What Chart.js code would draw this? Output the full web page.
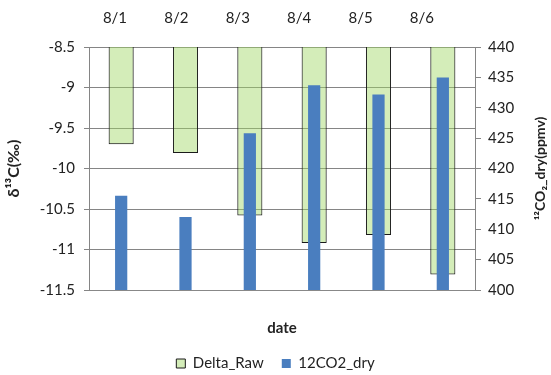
<!DOCTYPE html>
<html><head><meta charset="utf-8">
<script src="https://cdn.jsdelivr.net/npm/chart.js@4"></script>
<style>html,body{margin:0;padding:0;background:#fff}</style>
</head><body>
<canvas id="c" width="551" height="375"></canvas>
<script>
const dates = ['8/1','8/2','8/3','8/4','8/5','8/6'];
const deltaRaw = [-9.70,-9.81,-10.58,-10.92,-10.82,-11.31];
const co2Dry = [415.5,412.0,425.8,433.7,432.2,435.0];
const FONT = 'Lato, "Liberation Sans", sans-serif';
const TXT = '#222';

const rightTitlePlugin = {
  id: 'rightTitle',
  afterDraw(chart) {
    const s = chart.scales.y2, ctx = chart.ctx, t = s.options.title;
    ctx.save();
    ctx.translate(s.right - 11, (chart.chartArea.top + chart.chartArea.bottom) / 2);
    ctx.rotate(-Math.PI / 2);
    ctx.font = 'bold 14px ' + FONT;
    ctx.fillStyle = TXT; ctx.textAlign = 'center'; ctx.textBaseline = 'middle';
    ctx.fillText(t.text, 0, 0);
    ctx.restore();
  }
};

new Chart(document.getElementById('c'), {
  type: 'bar',
  data: {
    labels: dates,
    datasets: [
      {label: 'Delta_Raw', data: deltaRaw, yAxisID: 'y', xAxisID: 'x',
       backgroundColor: 'rgba(160,215,100,0.45)', borderColor: '#1a1a1a', borderWidth: 1,
       grouped: false, order: 1, barPercentage: 0.39, categoryPercentage: 1},
      {label: '12CO2_dry', data: co2Dry, yAxisID: 'y2', xAxisID: 'x',
       backgroundColor: '#4a7ebf', borderWidth: 0,
       grouped: false, order: 0, barPercentage: 0.19, categoryPercentage: 1}
    ]
  },
  options: {
    responsive: false, animation: false,
    layout: {padding: 0},
    plugins: {
      legend: {position: 'bottom', maxHeight: 37,
        labels: {font: {family: FONT, size: 15}, color: TXT,
        boxWidth: 9, boxHeight: 9, padding: 18, sort: (a, b) => a.datasetIndex - b.datasetIndex}},
      tooltip: {enabled: false}
    },
    scales: {
      x: {type: 'category', position: 'bottom', offset: true,
          grid: {display: false}, border: {color: '#888'}, ticks: {display: false},
          title: {display: true, text: 'date', font: {family: FONT, size: 15, weight: 'bold'}, color: TXT,
                  padding: {top: 4, bottom: 1}},
          afterFit(s) { s.height = 48; }},
      x2: {type: 'linear', position: 'top', min: 0.577, max: 6.864, offset: false,
           grid: {display: false, drawTicks: false}, border: {display: false},
           afterBuildTicks(s) { s.ticks = dates.map((d, i) => ({value: i + 1})); },
           ticks: {callback: v => dates[v - 1], autoSkip: false, maxRotation: 0,
                   font: {family: FONT, size: 15}, color: TXT, padding: 20},
           afterFit(s) { s.height = 47; }},
      y: {position: 'left', min: -11.5, max: -8.5,
          ticks: {stepSize: 0.5, callback: v => String(v), font: {family: FONT, size: 15}, color: TXT, padding: 9},
          grid: {color: '#858585', tickLength: 5}, border: {color: '#858585'},
          title: {display: true, text: 'δ¹³C(‰)', font: {family: FONT, size: 16, weight: 'bold'}, color: TXT},
          afterFit(s) { s.width = 89; }},
      y2: {position: 'right', min: 400, max: 440,
           ticks: {stepSize: 5, font: {family: FONT, size: 15}, color: TXT, padding: 7},
           grid: {drawOnChartArea: false, tickLength: 6, color: '#858585'}, border: {color: '#858585'},
           title: {display: false, text: '¹²CO₂_dry(ppmv)'},
           afterFit(s) { s.width = 76; }}
    }
  },
  plugins: [rightTitlePlugin]
});
</script>
</body></html>
